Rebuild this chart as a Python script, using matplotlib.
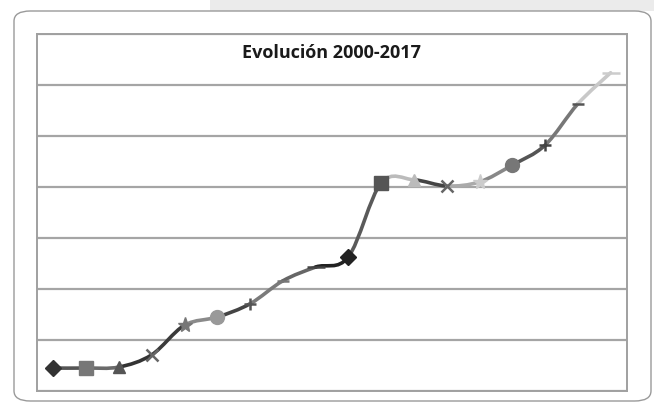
import matplotlib
matplotlib.use("Agg")
import matplotlib.pyplot as plt
from matplotlib.path import Path
from matplotlib.patches import PathPatch, FancyBboxPatch, Rectangle
import numpy as np

years = list(range(2000, 2018))
values = [4.5, 4.5, 4.7, 7.1, 12.9, 14.5, 17.1, 21.6, 24.3, 26.3,
          40.8, 41.4, 40.2, 41.0, 44.3, 48.2, 56.3, 62.4]
title = "Evolución 2000-2017"
segment_colors = ["#555555", "#6a6a6a", "#333333", "#3a3a3a", "#8a8a8a", "#444444",
                  "#7a7a7a", "#666666", "#222222", "#5a5a5a", "#bbbbbb", "#444444",
                  "#aaaaaa", "#888888", "#555555", "#777777", "#c8c8c8"]
marker_shapes = ["D", "s", "^", "x", "*", "o", "+", "_", "_",
                 "D", "s", "^", "x", "*", "o", "+", "_", "_"]
marker_colors = ["#333333", "#777777", "#555555", "#666666", "#777777", "#999999",
                 "#555555", "#777777", "#444444", "#222222", "#555555", "#bbbbbb",
                 "#666666", "#cccccc", "#777777", "#444444", "#555555", "#cccccc"]

W, H = 654, 406
fig = plt.figure(figsize=(W / 100, H / 100), dpi=100)
fig.patch.set_facecolor("white")

# background screenshot elements
fig.patches.append(Rectangle((210 / W, 1 - 12 / H), (W - 210) / W, 12 / H,
                             transform=fig.transFigure, facecolor="#ebebeb",
                             edgecolor="none", zorder=0))
fig.patches.append(FancyBboxPatch((14 / W, 4 / H), (637 / W), (390 / H),
                                  boxstyle="round,pad=0,rounding_size=0.025",
                                  transform=fig.transFigure, facecolor="white",
                                  edgecolor="#9a9a9a", linewidth=1.0, zorder=0.5))

ax = fig.add_axes([37 / W, 1 - 392 / H, 590 / W, 357 / H])
ax.set_zorder(2)
ax.set_xlim(-0.5, len(years) - 0.5)
ax.set_ylim(0, 70)
ax.set_yticks(np.arange(0, 71, 10))
ax.set_xticks([])
ax.tick_params(left=False, labelleft=False)
ax.grid(axis="y", color="#a5a5a5", linewidth=1.6)
ax.set_axisbelow(True)
for s in ax.spines.values():
    s.set_color("#a0a0a0")
    s.set_linewidth(1.4)

xs = np.arange(len(years), dtype=float)
ys = np.array(values, dtype=float)
n = len(xs)
for i in range(n - 1):
    p0 = np.array([xs[max(i - 1, 0)], ys[max(i - 1, 0)]])
    p1 = np.array([xs[i], ys[i]])
    p2 = np.array([xs[i + 1], ys[i + 1]])
    p3 = np.array([xs[min(i + 2, n - 1)], ys[min(i + 2, n - 1)]])
    c1 = p1 + (p2 - p0) / 6.0
    c2 = p2 - (p3 - p1) / 6.0
    path = Path([p1, c1, c2, p2], [Path.MOVETO, Path.CURVE4, Path.CURVE4, Path.CURVE4])
    ax.add_patch(PathPatch(path, facecolor="none", edgecolor=segment_colors[i],
                           linewidth=2.6, capstyle="round", zorder=3))

for i in range(n):
    m = marker_shapes[i]
    size = {"D": 8, "s": 10, "^": 9, "x": 8, "*": 11, "o": 10, "+": 9, "_": 9}[m]
    if m == "_" and i in (8, 17):
        size = 13
    ax.plot(xs[i], ys[i], marker=m, markersize=size, color=marker_colors[i],
            markeredgecolor=marker_colors[i], markeredgewidth=1.8 if m in "x+_" else 1.0,
            linestyle="none", zorder=4)

ax.text(0.5, 1 - 18 / 357, title, ha="center", va="center", transform=ax.transAxes,
        fontsize=13, fontweight="bold", family=["Open Sans", "DejaVu Sans"],
        color="#1a1a1a", zorder=5)

fig.savefig("out.png", dpi=100)
